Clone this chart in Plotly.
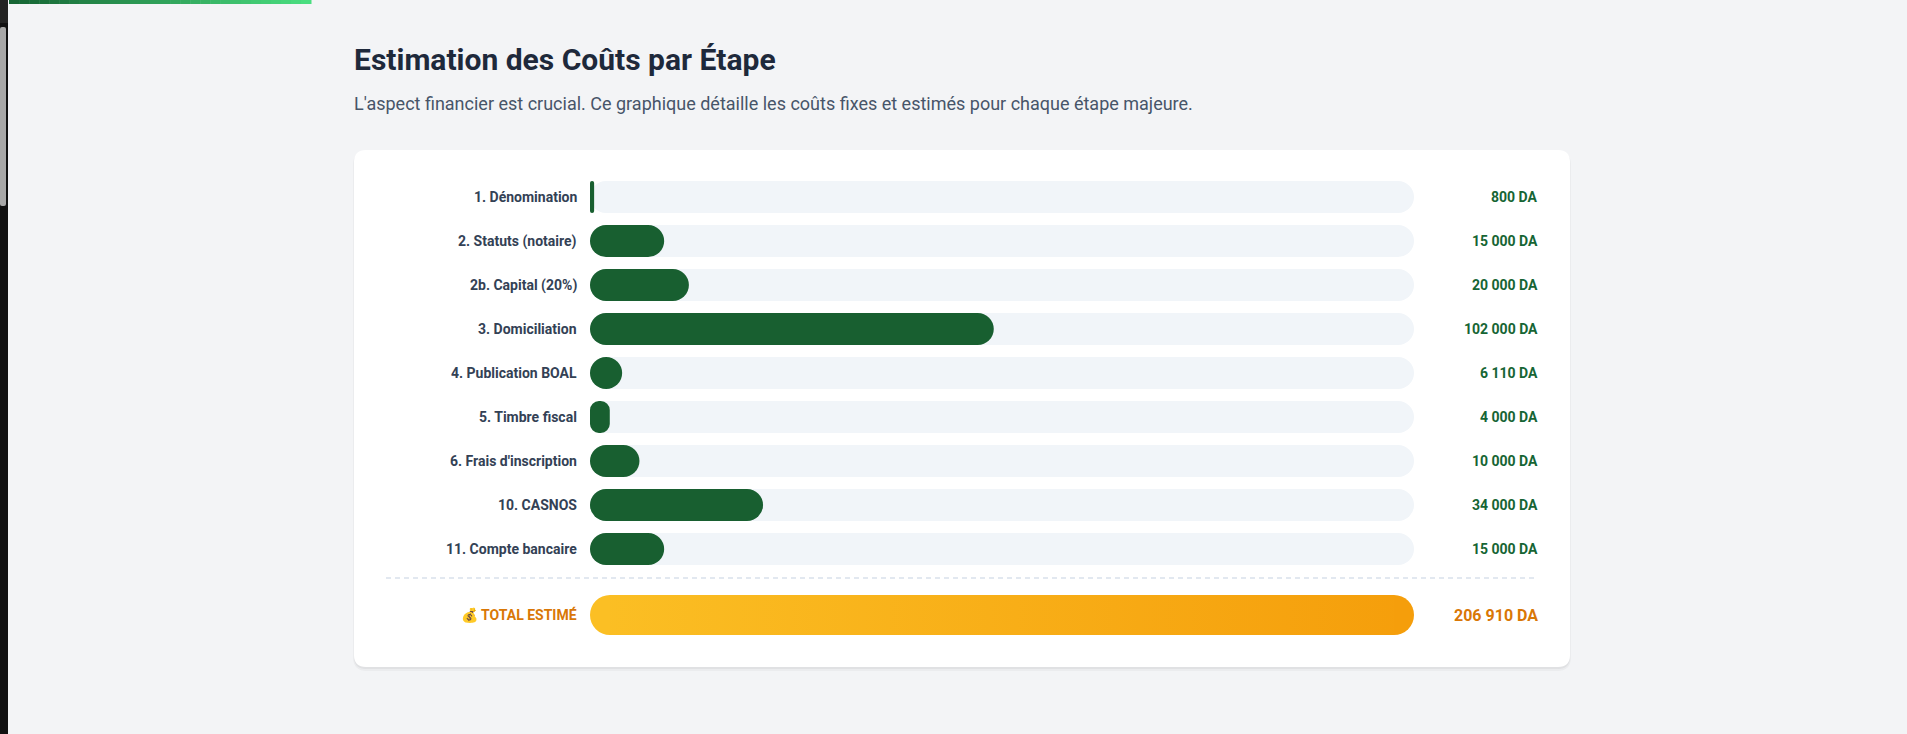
import plotly.graph_objects as go

# DATA
steps = ["1. Dénomination", "2. Statuts (notaire)", "2b. Capital (20%)", "3. Domiciliation",
         "4. Publication BOAL", "5. Timbre fiscal", "6. Frais d'inscription", "10. CASNOS",
         "11. Compte bancaire"]
costs = [800, 15000, 20000, 102000, 6110, 4000, 10000, 34000, 15000]
# how much of each track the green bar fills (%), as drawn in the reference
fill_pct = [0.5, 9, 12, 49, 3.9, 2.4, 6, 21, 9]
total_label = "💰 TOTAL ESTIMÉ"
total_pct = 100

title = "Estimation des Coûts par Étape"
subtitle = ("L'aspect financier est crucial. Ce graphique détaille les coûts fixes "
            "et estimés pour chaque étape majeure.")


def da(v):
    return "{:,}".format(v).replace(",", " ") + " DA"


total = sum(costs)

# CONFIG (pixels of the 1907x734 page)
W, H = 1907, 734
PL, PR, PT, PB = 590, 1414, 175, 641
ROW = 44
GREEN = "#185f30"
TRACK = "#f1f5f9"


def px(x):
    return (x - PL) / (PR - PL)


def py(y):
    return 1 - (y - PT) / (PB - PT)


def rounded(x0, y0, x1, y1, r):
    return (f"M {px(x0 + r)},{py(y0)} L {px(x1 - r)},{py(y0)} Q {px(x1)},{py(y0)} {px(x1)},{py(y0 + r)} "
            f"L {px(x1)},{py(y1 - r)} Q {px(x1)},{py(y1)} {px(x1 - r)},{py(y1)} "
            f"L {px(x0 + r)},{py(y1)} Q {px(x0)},{py(y1)} {px(x0)},{py(y1 - r)} "
            f"L {px(x0)},{py(y0 + r)} Q {px(x0)},{py(y0)} {px(x0 + r)},{py(y0)} Z")


n = len(steps)
ypos = list(range(n))
ytot = n + 0.5
bw = 32 / ROW
tw = 40 / ROW

fig = go.Figure()


def pill(y, lengths, color, width, radius):
    # explicit base -> plotly rounds both ends
    fig.add_trace(go.Bar(y=y, x=lengths, base=[0] * len(lengths),
                         orientation="h", width=width, marker=dict(color=color, cornerradius=radius, line_width=0),
                         hoverinfo="skip", showlegend=False))


pill(ypos, [100] * n, TRACK, bw, 16)
pill(ypos, fill_pct, GREEN, bw, 16)

# total bar: rounded ends + gradient body
fig.add_trace(go.Bar(y=[ytot], x=[total_pct / 2], base=[total_pct / 2], orientation="h", width=tw,
                     marker=dict(color="#f59e0b", cornerradius=20, line_width=0),
                     hoverinfo="skip", showlegend=False))
fig.add_trace(go.Bar(y=[ytot], x=[total_pct * 0.55], base=[0], orientation="h", width=tw,
                     marker=dict(color="#fbbf24", cornerradius=20, line_width=0),
                     hoverinfo="skip", showlegend=False))
ru = 20 / (PR - PL) * 100
fig.add_trace(go.Scatter(
    x=[ru, total_pct - ru, total_pct - ru, ru, ru],
    y=[ytot - tw / 2, ytot - tw / 2, ytot + tw / 2, ytot + tw / 2, ytot - tw / 2],
    mode="lines", line=dict(width=0), fill="toself",
    fillgradient=dict(type="horizontal", colorscale=[[0, "#fbbf24"], [1, "#f59e0b"]], start=0, stop=total_pct),
    hoverinfo="skip", showlegend=False))

shapes = []
# browser edge + scrollbar
shapes.append(dict(type="rect", xref="paper", yref="paper", x0=px(0), x1=px(8), y0=py(0), y1=py(H),
                   fillcolor="#111111", line_width=0, layer="below"))
shapes.append(dict(type="rect", xref="paper", yref="paper", x0=px(0), x1=px(8), y0=py(0), y1=py(23),
                   fillcolor="#232323", line_width=0, layer="below"))
shapes.append(dict(type="path", xref="paper", yref="paper", path=rounded(0, 27, 6, 206, 2),
                   fillcolor="#a8a8a8", line_width=0, layer="below"))
# top progress bar
seg = 30
for i in range(seg):
    t = i / (seg - 1)
    c = tuple(int(a + (b - a) * t) for a, b in zip((22, 101, 52), (74, 222, 128)))
    shapes.append(dict(type="rect", xref="paper", yref="paper",
                       x0=px(9 + (311 - 9) * i / seg), x1=px(9 + (311 - 9) * (i + 1) / seg + 0.5),
                       y0=py(0), y1=py(4), fillcolor="rgb(%d,%d,%d)" % c, line_width=0, layer="below"))
# card with soft shadow
shapes.append(dict(type="path", xref="paper", yref="paper", path=rounded(353, 151, 1571, 671, 14),
                   fillcolor="rgba(15,23,42,0.035)", line_width=0, layer="below"))
shapes.append(dict(type="path", xref="paper", yref="paper", path=rounded(354, 151, 1570, 669, 12),
                   fillcolor="rgba(15,23,42,0.05)", line_width=0, layer="below"))
shapes.append(dict(type="path", xref="paper", yref="paper", path=rounded(354, 150, 1570, 667, 12),
                   fillcolor="white", line_width=0, layer="below"))
# dashed separator
shapes.append(dict(type="line", xref="paper", yref="paper", x0=px(386), x1=px(1538), y0=py(578), y1=py(578),
                   line=dict(color="#e2e8f0", width=2, dash="5px,4px"), layer="below"))

ann = [
    dict(text=title, x=px(352), y=py(59.6), xref="paper", yref="paper", xanchor="left", yanchor="middle",
         showarrow=False, font=dict(family="Roboto", size=30, color="#1e293b", weight=700)),
    dict(text=subtitle, x=px(352), y=py(103), xref="paper", yref="paper", xanchor="left", yanchor="middle",
         showarrow=False, font=dict(family="Roboto", size=18, color="#475569")),
]
for y, s, v in zip(ypos, steps, costs):
    ann.append(dict(text=s, x=px(579), y=y, xref="paper", yref="y", xanchor="right", yanchor="middle",
                    showarrow=False, font=dict(family="Roboto", size=14, color="#334155", weight=700)))
    ann.append(dict(text=da(v), x=px(1540), y=y, xref="paper", yref="y", xanchor="right", yanchor="middle",
                    showarrow=False, font=dict(family="Roboto", size=14, color="#166534", weight=700)))
ann.append(dict(text=total_label, x=px(579), y=ytot, xref="paper", yref="y", xanchor="right", yanchor="middle",
                showarrow=False, font=dict(family="Roboto", size=14, color="#d97706", weight=700)))
ann.append(dict(text=da(total), x=px(1540), y=ytot, xref="paper", yref="y", xanchor="right", yanchor="middle",
                showarrow=False, font=dict(family="Roboto", size=16, color="#d97706", weight=700)))

fig.update_layout(
    width=W, height=H,
    margin=dict(l=PL, r=W - PR, t=PT, b=H - PB, pad=0),
    paper_bgcolor="#f3f4f6", plot_bgcolor="rgba(0,0,0,0)",
    barmode="overlay", showlegend=False,
    font=dict(family="Roboto"),
    shapes=shapes, annotations=ann,
    xaxis=dict(range=[0, 100], visible=False, fixedrange=True),
    yaxis=dict(range=[(PB - PT) / ROW - 0.5, -0.5], visible=False, fixedrange=True),
)

fig.write_html("out.html", config={"displayModeBar": False},
               post_script="document.body.style.margin='0';document.body.style.overflow='hidden';")
